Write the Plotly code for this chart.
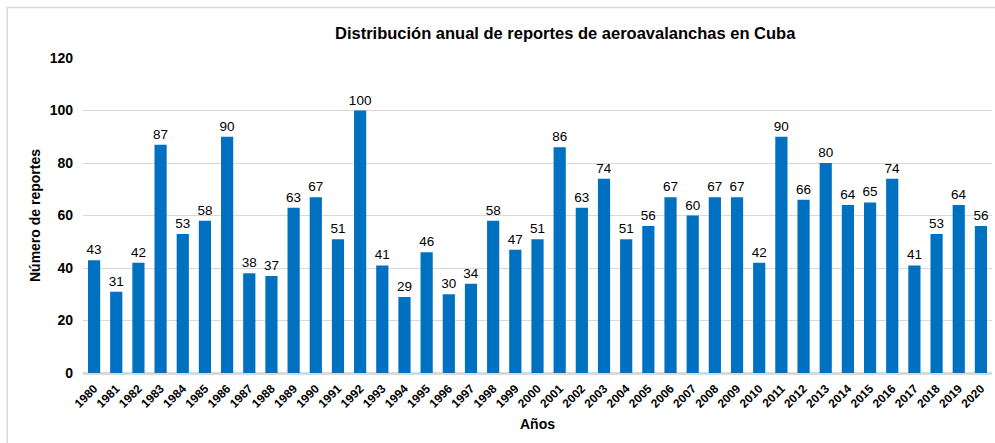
import plotly.graph_objects as go

years = [str(y) for y in range(1980, 2021)]
reports = [43, 31, 42, 87, 53, 58, 90, 38, 37, 63, 67, 51, 100, 41, 29, 46, 30, 34, 58, 47,
           51, 86, 63, 74, 51, 56, 67, 60, 67, 67, 42, 90, 66, 80, 64, 65, 74, 41, 53, 64, 56]
y_ticks = [0, 20, 40, 60, 80, 100, 120]

FONT = "Liberation Sans, Arial, sans-serif"

fig = go.Figure(go.Bar(
    x=years, y=reports,
    marker=dict(color="#0070C0", line=dict(width=0)),
    text=reports, textposition="outside", cliponaxis=False, constraintext="none",
    textfont=dict(family=FONT, size=13.5, color="#000000"),
))

fig.update_layout(
    width=995, height=443,
    margin=dict(l=83, r=3, t=58, b=70, autoexpand=False),
    paper_bgcolor="white", plot_bgcolor="white",
    bargap=0.45,
    showlegend=False,
    font=dict(family=FONT, color="#000000"),
    title=dict(text="<b>Distribución anual de reportes de aeroavalanchas en Cuba</b>",
               x=0.568, xanchor="center", y=0.925, yanchor="middle",
               font=dict(family=FONT, size=16.5, color="#000000")),
    xaxis=dict(title=dict(text="<b>Años</b>", font=dict(size=14), standoff=10),
               tickangle=-45, tickfont=dict(size=12, family=FONT), automargin=False,
               tickvals=years, ticktext=[f"<b>{y}</b>" for y in years],
               showgrid=False, showline=True, linecolor="#D9D9D9", linewidth=2,
               ticks="", ticklabelstandoff=2),
    yaxis=dict(title=dict(text="<b>Número de reportes</b>", font=dict(size=14), standoff=5),
               range=[0, 120], tickvals=y_ticks, ticktext=[f"<b>{v}</b>" for v in y_ticks],
               tickfont=dict(size=14, family=FONT), automargin=False,
               showgrid=True, gridcolor="#D9D9D9", gridwidth=1,
               zeroline=True, zerolinecolor="#D9D9D9", zerolinewidth=2,
               ticks="", ticklabelstandoff=9),
    shapes=[dict(type="rect", xref="paper", yref="paper",
                 x0=-0.0835, x1=1.01, y0=-0.25, y1=1.16,
                 line=dict(color="#D9D9D9", width=1.5), fillcolor="rgba(0,0,0,0)", layer="below")],
)

fig.write_html("out.html", config={"displayModeBar": False},
               post_script="document.body.style.margin='0';")
